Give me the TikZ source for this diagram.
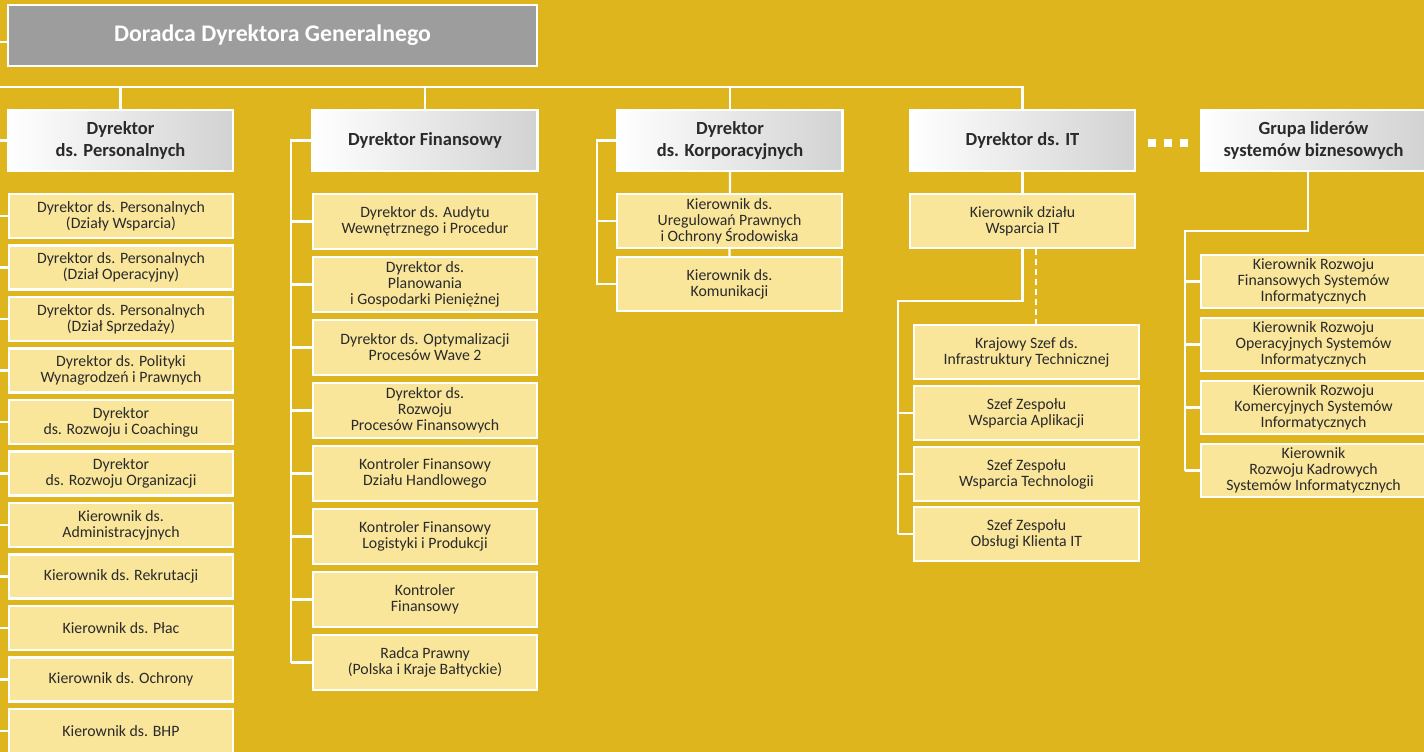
\documentclass[tikz,border=0pt]{standalone}
\usepackage{fontspec}
\setmainfont{Carlito}
\usetikzlibrary{calc}
\definecolor{bgc}{HTML}{DFB51E}
\definecolor{boxc}{HTML}{F9E69B}
\definecolor{txt}{HTML}{2A2A2A}
\definecolor{grayc}{HTML}{9D9D9D}
\definecolor{hdr}{HTML}{D2D2D2}
\pgfdeclarelayer{bg}
\pgfsetlayers{bg,main}
\begin{document}
\begin{tikzpicture}[x=1pt,y=-1pt,
  conn/.style={draw=white,line width=2.2pt},
  kid/.style={draw=white,line width=2.2pt,fill=boxc,text=txt,align=center,
    minimum width=224pt,inner sep=0pt,font=\fontsize{15.8}{16}\selectfont},
  hd/.style={draw=white,line width=2.2pt,left color=white,right color=hdr,
    text=txt,align=center,minimum width=225pt,minimum height=61pt,inner sep=0pt,
    font=\bfseries\fontsize{18.5}{22}\selectfont},
  topbox/.style={draw=white,line width=2.2pt,fill=grayc,text=white,
    minimum width=529pt,minimum height=61pt,inner sep=0pt,
    font=\bfseries\fontsize{23.8}{28}\selectfont},
  dotsq/.style={fill=white}
]
\begin{pgfonlayer}{bg}
\fill[bgc] (0,0) rectangle (1424,752);
\end{pgfonlayer}
\useasboundingbox (0,0) rectangle (1424,752);

% top
\node[topbox] (dd) at (272.5,35.5) {Doradca Dyrektora Generalnego};

% headers
\node[hd] (ph) at (120.5,140.5) {Dyrektor\\ds. Personalnych};
\node[hd] (fh) at (425,140.5) {Dyrektor Finansowy};
\node[hd] (kh) at (730,140.5) {Dyrektor\\ds. Korporacyjnych};
\node[hd] (ih) at (1022.5,140.5) {Dyrektor ds. IT};
\node[hd] (gh) at (1313.5,140.5) {Grupa liderów\\systemów biznesowych};

% column 1
\tikzset{pk/.style={kid,minimum height=44pt}}
\node[pk] (p1) at (121,216) {Dyrektor ds. Personalnych\\(Działy Wsparcia)};
\node[pk] (p2) at (121,267.5) {Dyrektor ds. Personalnych\\(Dział Operacyjny)};
\node[pk] (p3) at (121,319) {Dyrektor ds. Personalnych\\(Dział Sprzedaży)};
\node[pk] (p4) at (121,370.5) {Dyrektor ds. Polityki\\Wynagrodzeń i Prawnych};
\node[pk] (p5) at (121,422) {Dyrektor\\ds. Rozwoju i Coachingu};
\node[pk] (p6) at (121,473.5) {Dyrektor\\ds. Rozwoju Organizacji};
\node[pk] (p7) at (121,525) {Kierownik ds.\\Administracyjnych};
\node[pk] (p8) at (121,576.5) {Kierownik ds. Rekrutacji};
\node[pk] (p9) at (121,628) {Kierownik ds. Płac};
\node[pk] (p10) at (121,679.5) {Kierownik ds. Ochrony};
\node[pk] (p11) at (121,731) {Kierownik ds. BHP};

% column 2
\tikzset{fk/.style={kid,minimum height=55pt}}
\node[fk] (f1) at (425,221.5) {Dyrektor ds. Audytu\\Wewnętrznego i Procedur};
\node[fk] (f2) at (425,284.5) {Dyrektor ds.\\Planowania\\i Gospodarki Pieniężnej};
\node[fk] (f3) at (425,347.5) {Dyrektor ds. Optymalizacji\\Procesów Wave 2};
\node[fk] (f4) at (425,410.5) {Dyrektor ds.\\Rozwoju\\Procesów Finansowych};
\node[fk] (f5) at (425,473.5) {Kontroler Finansowy\\Działu Handlowego};
\node[fk] (f6) at (425,536.5) {Kontroler Finansowy\\Logistyki i Produkcji};
\node[fk] (f7) at (425,599.5) {Kontroler\\Finansowy};
\node[fk] (f8) at (425,662.5) {Radca Prawny\\(Polska i Kraje Bałtyckie)};

% column 3
\tikzset{kk/.style={kid,minimum height=54pt,minimum width=225pt}}
\node[kk] (k1) at (729.5,221) {Kierownik ds.\\Uregulowań Prawnych\\i Ochrony Środowiska};
\node[kk] (k2) at (729.5,284) {Kierownik ds.\\Komunikacji};

% column 4
\node[kk] (i0) at (1022.5,221) {Kierownik działu\\Wsparcia IT};
\node[kk] (i1) at (1026.5,352) {Krajowy Szef ds.\\Infrastruktury Technicznej};
\node[kk] (i2) at (1026.5,413) {Szef Zespołu\\Wsparcia Aplikacji};
\node[kk] (i3) at (1026.5,474) {Szef Zespołu\\Wsparcia Technologii};
\node[kk] (i4) at (1026.5,534) {Szef Zespołu\\Obsługi Klienta IT};

% column 5
\tikzset{gk/.style={kid,minimum height=53pt,minimum width=225pt}}
\node[gk] (g1) at (1313.5,281.5) {Kierownik Rozwoju\\Finansowych Systemów\\Informatycznych};
\node[gk] (g2) at (1313.5,344.5) {Kierownik Rozwoju\\Operacyjnych Systemów\\Informatycznych};
\node[gk] (g3) at (1313.5,407.5) {Kierownik Rozwoju\\Komercyjnych Systemów\\Informatycznych};
\node[gk] (g4) at (1313.5,470.5) {Kierownik\\Rozwoju Kadrowych\\Systemów Informatycznych};

% dots
\fill[dotsq] (1148,139) rectangle (1156,147);
\fill[dotsq] (1164,139) rectangle (1172,147);
\fill[dotsq] (1180,139) rectangle (1188,147);

% connectors
\coordinate (dl) at (-3,42);
\coordinate (tl) at (-3,87);
\coordinate (lt) at (-3,0);
\coordinate (ft) at (291,0);
\coordinate (kt) at (597,0);
\coordinate (ibend) at (898,301);
\coordinate (dsh) at (1036,0);
\coordinate (gbend) at (1308,231);
\coordinate (gt) at (1185,231);
\begin{pgfonlayer}{bg}
\draw[conn] (dl) -- (dl -| dd.west);
\draw[conn] (tl) -- (tl -| ih.north) -- (ih.north);
\draw[conn] (tl -| ph.north) -- (ph.north);
\draw[conn] (tl -| fh.north) -- (fh.north);
\draw[conn] (tl -| kh.north) -- (kh.north);
% col 1
\draw[conn] (lt |- ph) -- (ph.west);
\foreach \n in {p1,p2,p3,p4,p5,p6,p7,p8,p9,p10,p11}
  \draw[conn] (lt |- \n) -- (\n.west);
% col 2
\draw[conn] (fh.west) -- (ft |- fh) -- (ft |- f8);
\foreach \n in {f1,f2,f3,f4,f5,f6,f7,f8}
  \draw[conn] (ft |- \n) -- (\n.west);
% col 3
\draw[conn] (kh.west) -- (kt |- kh) -- (kt |- k2) -- (k2.west);
\draw[conn] (kt |- k1) -- (k1.west);
\draw[conn] (kh.south) -- (k2.north);
% col 4
\draw[conn] (ih.south) -- (i0.north);
\draw[conn] (i0.south) -- (i0.south |- ibend) -- (ibend) -- (ibend |- i4);
\foreach \n in {i2,i3,i4}
  \draw[conn] (ibend |- \n) -- (\n.west);
\draw[conn,dash pattern=on 6pt off 4pt] (dsh |- i0.south) -- (dsh |- i1.north);
% col 5
\draw[conn] (gbend |- gh.south) -- (gbend) -- (gt) -- (gt |- g4);
\foreach \n in {g1,g2,g3,g4}
  \draw[conn] (gt |- \n) -- (\n.west);
\end{pgfonlayer}
\end{tikzpicture}
\end{document}
